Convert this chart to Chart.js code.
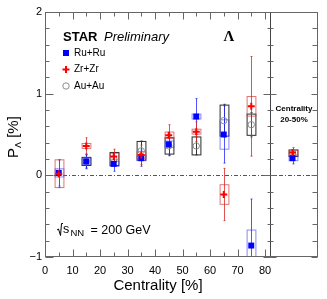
<!DOCTYPE html>
<html>
<head>
<meta charset="utf-8">
<script src="https://cdn.jsdelivr.net/npm/chart.js@4.4.0/dist/chart.umd.min.js"></script>
<style>
  html, body { margin: 0; padding: 0; background: #fff; }
  #wrap { position: relative; width: 327px; height: 299px; }
</style>
</head>
<body>
<div id="wrap"><canvas id="chart" width="327" height="299"></canvas></div>
<script>
// centrality bins (%) and Lambda polarization values (%)
const centrality = [5, 15, 25, 35, 45, 55, 65, 75];

const ruVal  = [0.03, 0.17, 0.14, 0.21, 0.38, 0.72, 0.50, -0.86];
const ruStat = [0.16, 0.09, 0.09, 0.10, 0.13, 0.22, 0.35, 0.57];
const ruSys  = [0.05, 0.04, 0.03, 0.03, 0.04, 0.03, 0.18, 0.19];

const zrVal  = [0.02, 0.36, 0.23, 0.25, 0.49, 0.535, -0.235, 0.845];
const zrStat = [0.17, 0.10, 0.09, 0.12, 0.13, 0.12, 0.32, 0.61];
const zrSys  = [0.17, 0.03, 0.04, 0.04, 0.04, 0.03, 0.12, 0.12];

const auCent = [15, 25, 35, 45, 55, 65, 75];
const auVal  = [0.17, 0.20, 0.30, 0.36, 0.36, 0.67, 0.62];
const auStat = [0.08, 0.08, 0.12, 0.12, 0.11, 0.20, 0.15];
const auSys  = [0.05, 0.08, 0.115, 0.10, 0.11, 0.19, 0.13];

// integrated 20-50% point, shown in the right pad
const intPos  = [90];
const intRu   = [0.21], intRuStat = [0.07], intRuSys = [0.03];
const intZr   = [0.28], intZrStat = [0.06], intZrSys = [0.03];
const intAu   = [0.27], intAuStat = [0.04], intAuSys = [0.04];

const xTicks = [0, 10, 20, 30, 40, 50, 60, 70, 80];
const yTicks = [-1, 0, 1, 2];

// layout
const xMax = 99.27;      // right edge of the side pad
const padEdge = 81.8;    // border between the two pads
const boxHalf = 1.6;     // half width of systematic boxes (x units)
const FONT = '"Liberation Sans", Arial, Helvetica, sans-serif';

const RU = { m: '#0000ff', bar: 'rgba(40,40,255,0.8)', box: 'rgba(70,70,255,0.65)' };
const ZR = { m: '#ff0000', bar: 'rgba(215,40,40,0.8)', box: 'rgba(215,70,70,0.75)' };
const AU = { m: '#8c8c8c', bar: '#333333', box: '#2a2a2a' };

const series = [
  { xs: auCent, v: auVal, st: auStat, sy: auSys, c: AU },
  { xs: intPos, v: intAu, st: intAuStat, sy: intAuSys, c: AU },
  { xs: centrality, v: ruVal, st: ruStat, sy: ruSys, c: RU },
  { xs: intPos, v: intRu, st: intRuStat, sy: intRuSys, c: RU },
  { xs: centrality, v: zrVal, st: zrStat, sy: zrSys, c: ZR },
  { xs: intPos, v: intZr, st: intZrStat, sy: intZrSys, c: ZR }
];

const pts = (xs, vs) => xs.map((x, i) => ({ x: x, y: vs[i] }));

const errPlugin = {
  id: 'errs',
  beforeDatasetsDraw(chart) {
    const { ctx, chartArea: a, scales: { x, y } } = chart;
    ctx.save();
    ctx.beginPath();
    ctx.rect(a.left, a.top, a.right - a.left, a.bottom - a.top);
    ctx.clip();

    // dash-dotted zero line
    ctx.strokeStyle = '#555';
    ctx.lineWidth = 1;
    ctx.setLineDash([4, 2, 1, 2]);
    ctx.beginPath();
    ctx.moveTo(a.left, Math.round(y.getPixelForValue(0)) + 0.5);
    ctx.lineTo(a.right, Math.round(y.getPixelForValue(0)) + 0.5);
    ctx.stroke();
    ctx.setLineDash([]);

    series.forEach(s => {
      s.xs.forEach((c, i) => {
        const px = Math.round(x.getPixelForValue(c)) + 0.5;
        const hw = x.getPixelForValue(c + boxHalf) - x.getPixelForValue(c);
        const yTop = y.getPixelForValue(s.v[i] + s.sy[i]);
        const yBot = y.getPixelForValue(s.v[i] - s.sy[i]);
        ctx.strokeStyle = s.c.box;
        ctx.lineWidth = 1;
        ctx.strokeRect(px - hw, yTop, 2 * hw, yBot - yTop);

        const sTop = y.getPixelForValue(s.v[i] + s.st[i]);
        const sBot = y.getPixelForValue(s.v[i] - s.st[i]);
        ctx.strokeStyle = s.c.bar;
        ctx.beginPath();
        ctx.moveTo(px, sTop);
        ctx.lineTo(px, sBot);
        ctx.moveTo(px - 1, sTop);
        ctx.lineTo(px + 1, sTop);
        ctx.moveTo(px - 1, sBot);
        ctx.lineTo(px + 1, sBot);
        ctx.stroke();
      });
    });
    ctx.restore();
  },
  afterDatasetsDraw(chart) {
    const { ctx, chartArea: a, scales: { x, y } } = chart;
    const sep = Math.round(x.getPixelForValue(padEdge)) + 0.5;
    const L = a.left + 0.5, R = a.right - 0.5, T = a.top + 0.5, B = a.bottom - 0.5;
    ctx.save();
    ctx.strokeStyle = '#666';
    ctx.lineWidth = 1;
    ctx.strokeRect(L, T, R - L, B - T);
    ctx.strokeStyle = '#444';
    ctx.beginPath();
    ctx.moveTo(sep, T);
    ctx.lineTo(sep, B);
    ctx.stroke();

    // y ticks on both pads
    ctx.strokeStyle = '#666';
    ctx.beginPath();
    for (let k = 0; k <= 15; k++) {
      const v = -1 + k * 0.2;
      const major = k % 5 === 0;
      const py = Math.round(y.getPixelForValue(v)) + 0.5;
      const l1 = major ? 8 : 4, l2 = major ? 6 : 3;
      ctx.moveTo(L, py); ctx.lineTo(L + l1, py);
      ctx.moveTo(sep, py); ctx.lineTo(sep - (major ? 7 : 3), py);
      ctx.moveTo(sep, py); ctx.lineTo(sep + l2, py);
      ctx.moveTo(R, py); ctx.lineTo(R - (major ? 6 : 5), py);
    }
    // x ticks, main pad only
    for (let c = 0; c <= 80; c += 5) {
      const px = Math.round(x.getPixelForValue(c)) + 0.5;
      const l = c % 10 === 0 ? 7 : 4;
      ctx.moveTo(px, B); ctx.lineTo(px, B - l);
      ctx.moveTo(px, T); ctx.lineTo(px, T + l);
    }
    ctx.stroke();
    ctx.restore();
  },
  afterDraw(chart) {
    const { ctx } = chart;
    ctx.save();
    ctx.fillStyle = '#000';
    ctx.textBaseline = 'alphabetic';

    ctx.font = 'bold 13px ' + FONT;
    ctx.fillText('STAR', 63, 41);
    ctx.font = 'italic 13px ' + FONT;
    ctx.fillText('Preliminary', 104, 41);
    ctx.font = 'bold 15px "Liberation Serif", "Times New Roman", serif';
    ctx.textAlign = 'center';
    ctx.fillText('Λ', 229, 41);
    ctx.textAlign = 'left';

    // legend
    ctx.font = '10px ' + FONT;
    ctx.textBaseline = 'middle';
    ctx.fillStyle = RU.m;
    ctx.fillRect(63, 50, 6, 6);
    ctx.strokeStyle = ZR.m;
    ctx.lineWidth = 2;
    ctx.beginPath();
    ctx.moveTo(62.5, 69.5); ctx.lineTo(69.5, 69.5);
    ctx.moveTo(66, 66); ctx.lineTo(66, 73);
    ctx.stroke();
    ctx.strokeStyle = AU.m;
    ctx.lineWidth = 1;
    ctx.beginPath();
    ctx.arc(66, 86, 3.2, 0, Math.PI * 2);
    ctx.stroke();
    ctx.fillStyle = '#000';
    ctx.fillText('Ru+Ru', 74, 53);
    ctx.fillText('Zr+Zr', 74, 69.5);
    ctx.fillText('Au+Au', 74, 86);

    // side pad label
    ctx.textAlign = 'center';
    ctx.font = 'bold 8px ' + FONT;
    ctx.fillText('Centrality', 294, 108.5);
    ctx.fillText('20-50%', 294, 119.5);

    // sqrt(s_NN) = 200 GeV
    ctx.textAlign = 'left';
    ctx.textBaseline = 'alphabetic';
    ctx.strokeStyle = '#000';
    ctx.lineWidth = 1;
    ctx.beginPath();
    ctx.moveTo(57, 230);
    ctx.lineTo(58.5, 229);
    ctx.lineTo(60.5, 235.5);
    ctx.lineTo(61.5, 223.5);
    ctx.lineTo(63, 223.5);
    ctx.stroke();
    ctx.font = '12.5px ' + FONT;
    ctx.fillText('s', 63, 233);
    ctx.font = '9.5px ' + FONT;
    ctx.fillText('NN', 70.5, 236);
    ctx.font = '12.5px ' + FONT;
    ctx.fillText('= 200 GeV', 90.5, 233.8);

    // axis titles
    ctx.textAlign = 'center';
    ctx.textBaseline = 'middle';
    ctx.font = '15px ' + FONT;
    ctx.fillText('Centrality [%]', 158, 285.5);

    ctx.translate(17.5, 158);
    ctx.rotate(-Math.PI / 2);
    ctx.textAlign = 'left';
    ctx.textBaseline = 'alphabetic';
    ctx.font = '15px ' + FONT;
    ctx.fillText('P', 0, 0);
    let w = ctx.measureText('P').width;
    ctx.font = '9px ' + FONT;
    ctx.fillText('Λ', w, 3);
    w += ctx.measureText('Λ').width;
    ctx.font = '15px ' + FONT;
    ctx.fillText(' [%]', w, 0);
    ctx.restore();
  }
};

new Chart(document.getElementById('chart'), {
  type: 'scatter',
  data: {
    datasets: [
      { label: 'Zr+Zr', data: pts(centrality, zrVal), pointStyle: 'cross', pointRadius: 3.5,
        borderColor: ZR.m, borderWidth: 2, backgroundColor: ZR.m },
      { label: 'Zr+Zr 20-50%', data: pts(intPos, intZr), pointStyle: 'cross', pointRadius: 3.5,
        borderColor: ZR.m, borderWidth: 2, backgroundColor: ZR.m },
      { label: 'Ru+Ru', data: pts(centrality, ruVal), pointStyle: 'rect', pointRadius: 4.2,
        borderWidth: 0, backgroundColor: RU.m, borderColor: RU.m },
      { label: 'Ru+Ru 20-50%', data: pts(intPos, intRu), pointStyle: 'rect', pointRadius: 4.2,
        borderWidth: 0, backgroundColor: RU.m, borderColor: RU.m },
      { label: 'Au+Au', data: pts(auCent, auVal), pointStyle: 'circle', pointRadius: 3.2,
        borderWidth: 1, borderColor: AU.m, backgroundColor: 'rgba(0,0,0,0)' },
      { label: 'Au+Au 20-50%', data: pts(intPos, intAu), pointStyle: 'circle', pointRadius: 3.2,
        borderWidth: 1, borderColor: AU.m, backgroundColor: 'rgba(0,0,0,0)' }
    ]
  },
  options: {
    responsive: false,
    animation: false,
    layout: { padding: { left: 0, right: 9, top: 12, bottom: 0 } },
    plugins: { legend: { display: false }, tooltip: { enabled: false } },
    elements: { point: { hoverRadius: 4 } },
    scales: {
      x: {
        type: 'linear',
        min: 0,
        max: xMax,
        afterFit: s => { s.height = 42; },
        afterBuildTicks: s => { s.ticks = xTicks.map(v => ({ value: v })); },
        grid: { display: false, drawTicks: false },
        border: { display: false },
        ticks: {
          autoSkip: false,
          maxRotation: 0,
          padding: 7,
          color: '#000',
          font: { family: FONT, size: 11 }
        }
      },
      y: {
        min: -1,
        max: 2,
        afterFit: s => { s.width = 45; },
        afterBuildTicks: s => { s.ticks = yTicks.map(v => ({ value: v })); },
        grid: { display: false, drawTicks: false },
        border: { display: false },
        ticks: {
          padding: 3,
          color: '#000',
          font: { family: FONT, size: 11 },
          callback: v => (v < 0 ? '\u2212' + Math.abs(v) : String(v))
        }
      }
    }
  },
  plugins: [errPlugin]
});
</script>
</body>
</html>
